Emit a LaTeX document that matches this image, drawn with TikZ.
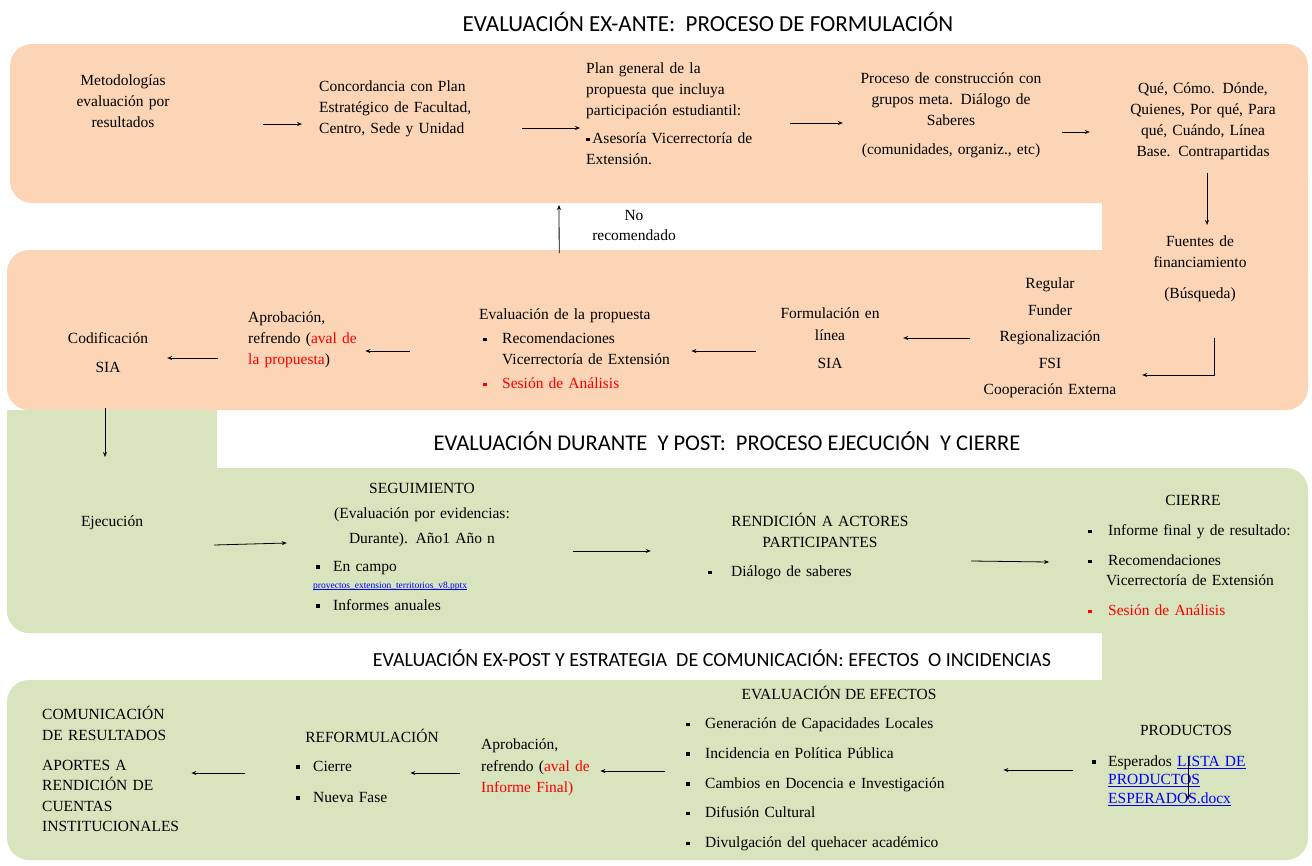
\documentclass[tikz,border=0pt]{standalone}
\usepackage{fontspec}
\setmainfont{Liberation Serif}
\newfontfamily\headfont{Carlito}
\usetikzlibrary{arrows.meta,positioning,calc}
\definecolor{exante}{HTML}{FBD5B5}
\definecolor{expost}{HTML}{D7E4BD}
\definecolor{linkblue}{HTML}{0000FF}
\newcommand{\bul}{\rule[2.5pt]{3.5pt}{3.5pt}}
\newcommand{\bitem}[1][19pt]{\makebox[#1][l]{\bul}}
\newcommand{\lnk}[1]{\textcolor{linkblue}{\setbox0\hbox{#1}\rlap{\rule[-0.16em]{\wd0}{0.06em}}\box0}}

\begin{document}
\begin{tikzpicture}[x=1pt,y=-1pt,
  txt/.style={font=\fontsize{15.5}{21}\selectfont, align=center, inner sep=0pt},
  ltxt/.style={txt, align=left, anchor=west},
  head/.style={font=\headfont\fontsize{23}{27}\selectfont, inner sep=0pt},
  band/.style={rounded corners=22pt},
  arr/.style={->, line width=0.8pt},
  >={Stealth[length=5pt,width=4pt]}]
  \fill[white] (0,0) rectangle (1312,865);
  \useasboundingbox (0,0) rectangle (1312,865);
  % fondos
  \fill[expost, band] (7,468) rectangle (1308,633);
  \fill[expost] (7,410) rectangle (217,500);
  \fill[expost, band] (7,680) rectangle (1308,860);
  \fill[expost] (1102,600) rectangle (1308,700);
  \fill[exante, band] (10,44) rectangle (1308,203);
  \fill[exante, band] (7,250) rectangle (1308,410);
  \fill[exante] (1102,150) rectangle (1308,300);

  \node[head] (t1) at (708,22) {EVALUACIÓN EX-ANTE:\ \ PROCESO DE FORMULACIÓN};
  \node[head, font=\headfont\fontsize{22.5}{26}\selectfont] (t2) at (727,441) {EVALUACIÓN DURANTE\ \ Y POST:\ \ PROCESO EJECUCIÓN\ \ Y CIERRE};
  \node[head, font=\headfont\fontsize{20}{24}\selectfont] (t3) at (712,658) {EVALUACIÓN EX-POST Y ESTRATEGIA\ \ DE COMUNICACIÓN: EFECTOS\ \ O INCIDENCIAS};

  \node[txt, text width=130pt] (met) at (123,101) {Metodologías\\evaluación por\\resultados};
  \node[ltxt, text width=190pt] (conc) at (319,109) {Concordancia con Plan\\Estratégico de Facultad,\\Centro, Sede y Unidad};
  \node[ltxt, text width=200pt] (plan) at (586,114) {Plan general de la\\propuesta que incluya\\participación estudiantil:\\[7pt]\bul\,Asesoría Vicerrectoría de\\Extensión.};
  \node[txt, text width=210pt] (proc) at (951,115.5) {Proceso de construcción con\\grupos meta. Diálogo de\\Saberes\\[8pt](comunidades, organiz., etc)};
  \node[txt, text width=160pt] (que) at (1203,121.5) {Qué, Cómo. Dónde,\\Quienes, Por qué, Para\\qué, Cuándo, Línea\\Base. Contrapartidas};
  \node[txt, text width=140pt] (fuen) at (1200,269) {Fuentes de\\financiamiento\\[10pt](Búsqueda)};
  \node[txt, text width=160pt, font=\fontsize{15.5}{26.5}\selectfont] (reg) at (1050,338) {Regular\\Funder\\Regionalización\\FSI\\Cooperación Externa};
  \node[txt, text width=120pt] (form) at (830,338) {Formulación en\\[1pt]línea\\[7pt]SIA};
  \node[ltxt, text width=205pt] (eval) at (479,349) {Evaluación de la propuesta\\[3pt]\hspace*{4pt}\bitem Recomendaciones\\\hspace*{23pt}Vicerrectoría de Extensión\\[3pt]\hspace*{4pt}\textcolor{red}{\bitem Sesión de Análisis}};
  \node[ltxt, text width=125pt] (apro) at (248,340) {Aprobación,\\refrendo (\textcolor{red}{aval de}\\\textcolor{red}{la propuesta})};
  \node[txt, text width=96pt] (cod) at (108,352.5) {Codificación\\[8pt]SIA};
  \node[txt, font=\fontsize{15.5}{20}\selectfont] (norec) at (634,225) {No\\recomendado};

  \node[txt, text width=90pt] (eje) at (112,523) {Ejecución};
  \node[txt, text width=240pt] (seg) at (422,515) {SEGUIMIENTO\\[4pt](Evaluación por evidencias:\\[4pt]Durante). Año1 Año n};
  \node[ltxt, text width=200pt] (segl) at (316,585.5) {\bitem[17pt]En campo\\[-4pt]\hspace*{-3pt}{\fontsize{9.5}{11}\selectfont\lnk{proyectos\_extension\_territorios\_v8.pptx}}\\[1pt]\bitem[17pt]Informes anuales};
  \node[txt, text width=230pt] (ren) at (820,530.5) {RENDICIÓN A ACTORES\\PARTICIPANTES};
  \node[ltxt, text width=200pt] (renl) at (708,573) {\bitem[23pt]Diálogo de saberes};
  \node[txt] (cie) at (1193,500) {CIERRE};
  \node[ltxt, text width=215pt, font=\fontsize{15.5}{20}\selectfont] (ciel) at (1088,570.5) {\bitem[20pt]Informe final y de resultado:\\[10pt]\bitem[20pt]Recomendaciones\\\hspace*{18pt}Vicerrectoría de Extensión\\[10pt]\textcolor{red}{\bitem[20pt]Sesión de Análisis}};

  \node[ltxt, text width=145pt, font=\fontsize{15.5}{20.5}\selectfont] (com) at (42,769) {COMUNICACIÓN\\DE RESULTADOS\\[9.5pt]APORTES A\\RENDICIÓN DE\\CUENTAS\\INSTITUCIONALES};
  \node[txt] (refo) at (372,736) {REFORMULACIÓN};
  \node[ltxt, text width=100pt] (refol) at (296,781.5) {\bitem[17pt]Cierre\\[10pt]\bitem[17pt]Nueva Fase};
  \node[ltxt, text width=115pt, font=\fontsize{15.5}{21.5}\selectfont] (apr2) at (481,767.5) {Aprobación,\\refrendo (\textcolor{red}{aval de}\\\textcolor{red}{Informe Final)}};
  \node[txt] (ef) at (839,693) {EVALUACIÓN DE EFECTOS};
  \node[ltxt, text width=265pt, font=\fontsize{15.5}{29.75}\selectfont] (efl) at (686,784.5) {\bitem Generación de Capacidades Locales\\\bitem Incidencia en Política Pública\\\bitem Cambios en Docencia e Investigación\\\bitem Difusión Cultural\\\bitem Divulgación del quehacer académico};
  \node[txt] (pro) at (1186,730) {PRODUCTOS};
  \node[ltxt, text width=200pt, font=\fontsize{15.5}{18.5}\selectfont] (prol) at (1092,780.5) {\bitem[16pt]Esperados \lnk{LISTA DE}\\\hspace*{16pt}\lnk{PRODUCTOS}\\\hspace*{16pt}\lnk{ESPERADOS.docx}};

  % flechas
  \draw[arr] ($(met.east)+(75,23)$) -- ($(conc.west)+(-17,15)$);
  \draw[arr] ($(conc.east)+(13,19)$) -- ($(plan.west)+(-6,14)$);
  \draw[arr] ($(plan.east)+(4,9)$) -- ($(proc.west)+(-3,7.5)$);
  \draw[arr] ($(proc.east)+(6,16.5)$) -- ($(que.west)+(-33,10.5)$);
  \draw[arr] ($(que)+(4,51.5)$) -- ($(fuen)+(7,-44)$);
  \draw[arr] ($(fuen)+(14,69)$) |- ($(reg.east)+(12,37)$);
  \draw[arr] (reg.west) -- ($(form.east)+(13,0)$);
  \draw[arr] ($(form.west)+(-14,13)$) -- ($(eval.east)+(7,2)$);
  \draw[arr] ($(eval.west)+(-69,2)$) -- ($(apro.east)+(-8,11)$);
  \draw[arr] ($(apro.west)+(-30,18)$) -- ($(cod.east)+(11,5.5)$);
  \draw[arr] ($(cod)+(-3,55.5)$) -- ($(eje)+(-7,-66)$);
  \draw[arr] ($(eval)+(-22.5,-96)$) -- ($(plan.west)+(-27,91)$);

  \draw[arr] ($(eje.east)+(57,22)$) -- ($(seg.west)+(-15,28)$);
  \draw[arr] ($(seg.east)+(31,36)$) -- ($(ren.west)+(-54,20.5)$);
  \draw[arr] ($(ren.east)+(36,30.5)$) -- ($(ciel.west)+(-39,-8.5)$);

  \draw[arr] ($(refol.west)+(-51,-8.5)$) -- ($(com.east)+(4,4)$);
  \draw[arr] ($(apr2.west)+(-21,5.5)$) -- ($(refol.east)+(14,-8.5)$);
  \draw[arr] ($(efl.west)+(-21,-13.5)$) -- ($(apr2.east)+(4,3.5)$);
  \draw[arr] ($(prol.west)+(-19,-10.5)$) -- ($(efl.east)+(52,-14.5)$);
  \draw[arr, line width=0.6pt] ($(pro)+(2,27)$) -- ($(prol.west)+(96,19.5)$);
\end{tikzpicture}
\end{document}
